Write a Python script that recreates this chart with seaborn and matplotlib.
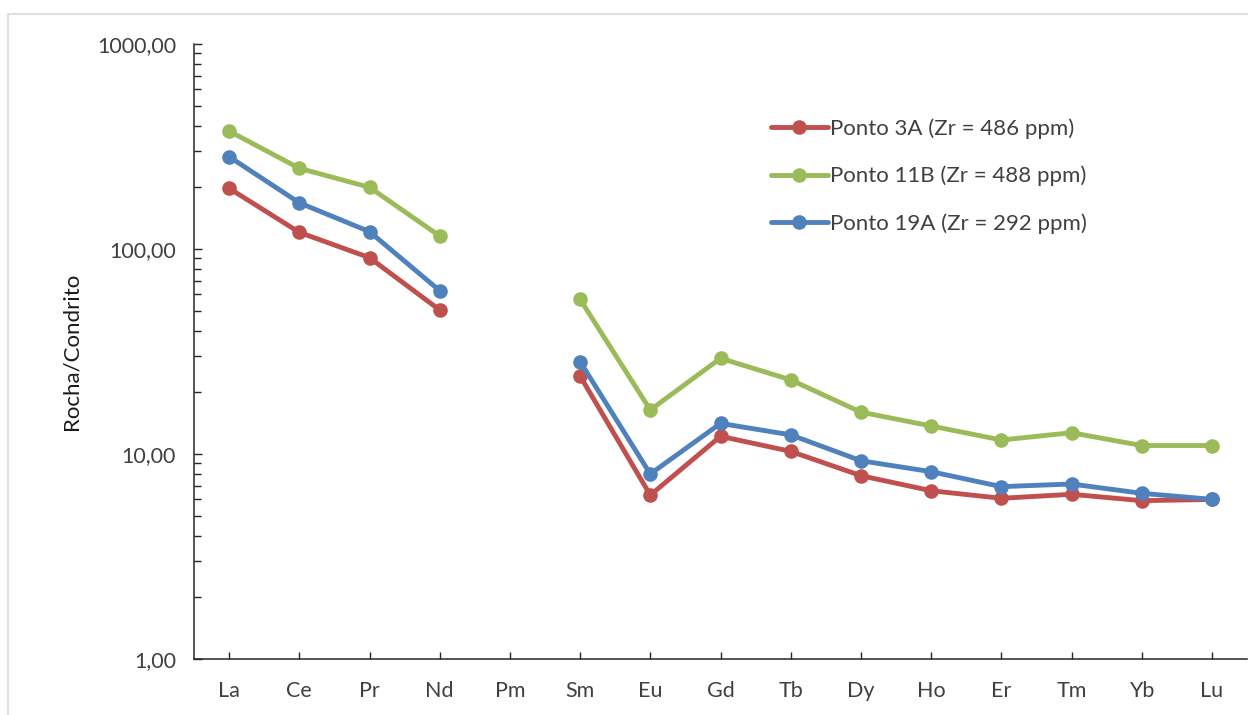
import numpy as np
import pandas as pd
import matplotlib
matplotlib.use("Agg")
import matplotlib.pyplot as plt
from matplotlib.lines import Line2D
from matplotlib.patches import Rectangle
from matplotlib.ticker import FixedLocator, LogLocator, NullFormatter
import seaborn as sns

# Rare earth elements (chondrite-normalised)
elements = ["La", "Ce", "Pr", "Nd", "Pm", "Sm", "Eu", "Gd", "Tb", "Dy",
            "Ho", "Er", "Tm", "Yb", "Lu"]

ponto_3a = [197.7, 120.6, 90.7, 50.4, np.nan, 24.0, 6.3, 12.2, 10.3, 7.84,
            6.62, 6.08, 6.36, 5.92, 6.0]
ponto_11b = [376.0, 247.6, 200.0, 115.7, np.nan, 56.8, 16.4, 29.3, 23.0, 16.0,
             13.7, 11.7, 12.7, 11.0, 11.0]
ponto_19a = [282.0, 168.0, 121.5, 62.6, np.nan, 28.2, 7.99, 14.1, 12.4, 9.27,
             8.2, 6.93, 7.14, 6.43, 6.01]

series_names = ["Ponto 3A (Zr = 486 ppm)",
                "Ponto 11B (Zr = 488 ppm)",
                "Ponto 19A (Zr = 292 ppm)"]
series_values = [ponto_3a, ponto_11b, ponto_19a]
series_colors = ["#C0504D", "#9BBB59", "#4F81BD"]

y_ticks = [1, 10, 100, 1000]
y_tick_labels = ["1,00", "10,00", "100,00", "1000,00"]

# Long table; segments split the line where a value is missing (Pm)
rows = []
for name, vals in zip(series_names, series_values):
    seg = 0
    for i, v in enumerate(vals):
        if np.isnan(v):
            seg += 1
            continue
        rows.append({"pos": i, "valor": v, "serie": name, "segmento": seg})
df = pd.DataFrame(rows)

sns.set_style("white")
plt.rcParams["font.family"] = ["Lato", "DejaVu Sans"]

W, H = 1248, 715
fig = plt.figure(figsize=(W / 100, H / 100), dpi=100)
ax = fig.add_axes([194 / W, 1 - 659 / H, (1247 - 194) / W, (659 - 44) / H])

# light frame around the chart area
fig.patches.append(Rectangle((8 / W, -0.05), 1.2, 1 - 14 / H + 0.05,
                             transform=fig.transFigure, fill=False,
                             edgecolor="#D9D9D9", linewidth=1.2, zorder=0))

palette = dict(zip(series_names, series_colors))
sns.lineplot(data=df, x="pos", y="valor", hue="serie", units="segmento",
             estimator=None, palette=palette, hue_order=series_names,
             marker="o", markersize=10.5, markeredgewidth=0,
             linewidth=3.5, legend=False, ax=ax, zorder=3)

ax.set_yscale("log")
ax.set_ylim(1, 1000)
ax.set_xlim(-0.5, len(elements) - 0.5)

ax.yaxis.set_major_locator(FixedLocator(y_ticks))
ax.set_yticklabels(y_tick_labels)
ax.yaxis.set_minor_locator(LogLocator(base=10, subs=np.arange(2, 10)))
ax.yaxis.set_minor_formatter(NullFormatter())

ax.set_xticks(range(len(elements)))
ax.set_xticklabels(elements)

for s in ["top", "right"]:
    ax.spines[s].set_visible(False)
for s in ["left", "bottom"]:
    ax.spines[s].set_color("#262626")
    ax.spines[s].set_linewidth(1.1)

ax.tick_params(axis="y", which="major", direction="in", length=6, width=1,
               color="#262626", labelsize=15.5, labelcolor="#404040", pad=13,
               left=True)
ax.tick_params(axis="y", which="minor", direction="in", length=5, width=1,
               color="#262626", left=True)
ax.tick_params(axis="x", which="major", direction="in", length=5, width=1,
               color="#262626", labelsize=15.5, labelcolor="#404040", pad=16,
               bottom=True)

ax.set_xlabel("")
ax.set_ylabel("Rocha/Condrito", fontsize=16, color="#1a1a1a")
ax.yaxis.set_label_coords(-(194 - 82) / (1247 - 194), 0.5)

handles = [Line2D([0], [0], color=c, linewidth=3.5, marker="o",
                  markersize=10.5, markeredgewidth=0)
           for c in series_colors]
leg = ax.legend(handles, series_names, loc="center left",
                bbox_to_anchor=(771 / W, 1 - 176 / H),
                bbox_transform=fig.transFigure, frameon=False,
                fontsize=16, handlelength=2.55, handletextpad=0.1,
                labelspacing=1.2, borderpad=0, borderaxespad=0)
for t in leg.get_texts():
    t.set_color("#404040")

fig.savefig("out.png", dpi=100)
